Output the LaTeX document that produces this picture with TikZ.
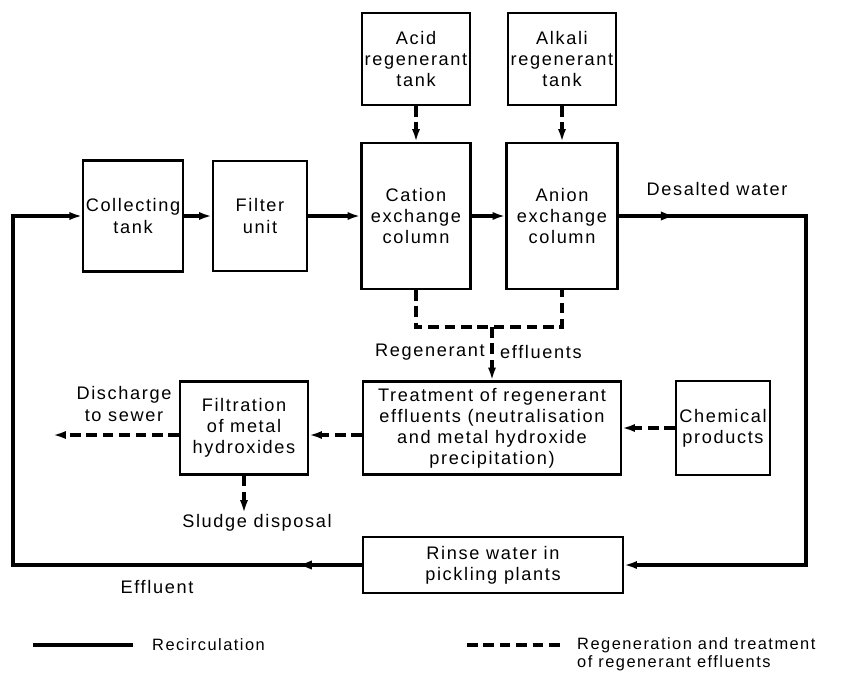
\documentclass[tikz,border=0pt]{standalone}
\usepackage{fontspec}
\setmainfont[LetterSpace=9]{Liberation Sans}
\usetikzlibrary{arrows.meta,decorations.markings}

\begin{document}
\begin{tikzpicture}[x=0.03cm, y=-0.03cm, >={Latex[length=11pt,width=7pt]},
    box/.style={draw, line width=1.8pt, align=center, inner sep=2pt, font=\fontsize{15.5}{18}\selectfont},
    flow/.style={line width=2.8pt},
    regen/.style={line width=2.8pt, dash pattern=on 9pt off 5pt},
    lbl/.style={font=\fontsize{15.5}{18}\selectfont, align=center, inner sep=0pt},
    midarrow/.style={postaction={decorate}, decoration={markings, mark=at position #1 with {\arrow{Latex[length=13pt,width=8pt]}}}}]

    \useasboundingbox (0,0) rectangle (850,673);

    \node[box, minimum width=3.21cm, minimum height=2.76cm] (acid) at (416,59) {Acid\\regenerant\\tank};
    \node[box, minimum width=3.21cm, minimum height=2.76cm] (alkali) at (562,59) {Alkali\\regenerant\\tank};
    \node[box, minimum width=2.82cm, minimum height=3.33cm] (collect) at (133,216) {Collecting\\tank};
    \node[box, minimum width=2.82cm, minimum height=3.3cm] (filter) at (260,216) {Filter\\unit};
    \node[box, minimum width=3.27cm, minimum height=4.38cm] (cation) at (416,216) {Cation\\exchange\\column};
    \node[box, minimum width=3.33cm, minimum height=4.38cm] (anion) at (562,216) {Anion\\exchange\\column};
    \node[box, minimum width=7.74cm, minimum height=2.79cm] (treat) at (492,428) {Treatment of regenerant\\effluents (neutralisation\\and metal hydroxide\\precipitation)};
    \node[box, minimum width=2.82cm, minimum height=2.82cm] (chem) at (723,428) {Chemical\\products};
    \node[box, minimum width=3.84cm, minimum height=2.79cm] (filtra) at (244,428) {Filtration\\of metal\\hydroxides};
    \node[box, minimum width=7.8cm, minimum height=1.68cm] (rinse) at (493,565) {Rinse water in\\pickling plants};

    \coordinate (tr) at (806,216);
    \coordinate (br) at (806,565);
    \coordinate (bl) at (13,565);
    \coordinate (tl) at (13,216);
    \coordinate (jn) at (492,327);
    \coordinate (sew) at (53,435);
    \coordinate (sl) at (244,513);

    \path[flow, ->]
        (collect) edge (filter)
        (filter) edge (cation)
        (cation) edge (anion)
        ;
    \draw[flow, ->, midarrow=0.08] (anion) -- (tr) -- (br) -- (rinse);
    \draw[flow, ->, midarrow=0.085] (rinse) -- (bl) -- (tl) -- (collect);

    \path[regen, ->]
        (acid) edge (cation)
        (alkali) edge (anion)
        (jn) edge (treat)
        (chem) edge (treat)
        (treat.west |- sew) edge (filtra.east |- sew)
        (filtra.west |- sew) edge (sew)
        (filtra) edge (sl)
        ;
    \draw[regen] (cation.south) -- (cation.south |- jn) -- (anion.south |- jn) -- (anion.south);

    \node[lbl] (desalted) at (717,189) {Desalted water};
    \node[lbl, anchor=east] (regena) at (485,352) {Regenerant};
    \node[lbl, anchor=west] (regenb) at (500,352) {effluents};
    \node[lbl] (discharge) at (124,404) {Discharge\\to sewer};
    \node[lbl] (sludge) at (257,523) {Sludge disposal};
    \node[lbl] (effluent) at (157,587) {Effluent};

    \coordinate (solida) at (33,645);
    \coordinate (solidb) at (133,645);
    \coordinate (dasha) at (467,645);
    \coordinate (dashb) at (560,645);
    \draw[flow] (solida) -- (solidb);
    \draw[regen] (dasha) -- (dashb);
    \node[lbl, anchor=west, font=\fontsize{14}{16}\selectfont] (recirc) at (152,645) {Recirculation};
    \node[lbl, anchor=north west, align=left, font=\fontsize{14}{16}\selectfont] (regtext) at (577,637) {Regeneration and treatment\\of regenerant effluents};
\end{tikzpicture}
\end{document}
